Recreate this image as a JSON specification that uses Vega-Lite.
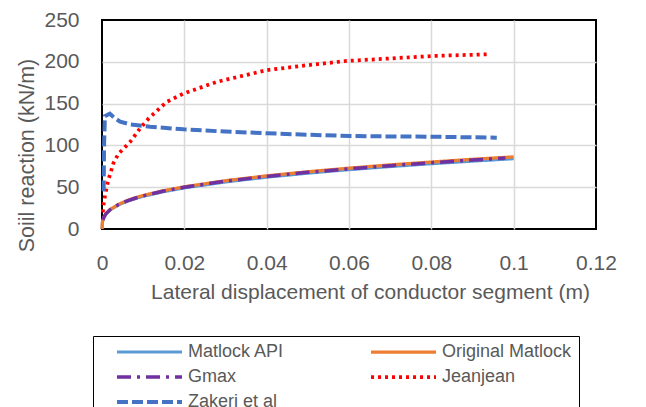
{
  "$schema": "https://vega.github.io/schema/vega-lite/v6.json",
  "width": 494,
  "height": 209,
  "autosize": "none",
  "padding": {"left": 102, "top": 20, "right": 50, "bottom": 178},
  "background": "white",
  "config": {
    "font": "Liberation Sans",
    "view": {"stroke": "black", "strokeWidth": 2},
    "axis": {
      "domain": false,
      "ticks": false,
      "gridColor": "#d9d9d9",
      "gridWidth": 1.5,
      "labelColor": "#595959",
      "titleColor": "#595959",
      "labelFontSize": 21,
      "titleFontSize": 21,
      "titleFontWeight": "normal",
      "labelFont": "Liberation Sans",
      "titleFont": "Liberation Sans"
    }
  },
  "data": {
    "values": [
      {"series": "Matlock API", "x": 0, "y": 0},
      {"series": "Matlock API", "x": 0.0001, "y": 8.4},
      {"series": "Matlock API", "x": 0.0005, "y": 14.4},
      {"series": "Matlock API", "x": 0.001, "y": 18.1},
      {"series": "Matlock API", "x": 0.002, "y": 22.8},
      {"series": "Matlock API", "x": 0.004, "y": 28.7},
      {"series": "Matlock API", "x": 0.006, "y": 32.9},
      {"series": "Matlock API", "x": 0.008, "y": 36.2},
      {"series": "Matlock API", "x": 0.01, "y": 39.0},
      {"series": "Matlock API", "x": 0.015, "y": 44.6},
      {"series": "Matlock API", "x": 0.02, "y": 49.1},
      {"series": "Matlock API", "x": 0.03, "y": 56.2},
      {"series": "Matlock API", "x": 0.04, "y": 61.9},
      {"series": "Matlock API", "x": 0.05, "y": 66.7},
      {"series": "Matlock API", "x": 0.06, "y": 70.9},
      {"series": "Matlock API", "x": 0.07, "y": 74.6},
      {"series": "Matlock API", "x": 0.08, "y": 78.0},
      {"series": "Matlock API", "x": 0.09, "y": 81.1},
      {"series": "Matlock API", "x": 0.1, "y": 84.0},

      {"series": "Original Matlock", "x": 0, "y": 0},
      {"series": "Original Matlock", "x": 0.0001, "y": 8.6},
      {"series": "Original Matlock", "x": 0.0005, "y": 14.8},
      {"series": "Original Matlock", "x": 0.001, "y": 18.6},
      {"series": "Original Matlock", "x": 0.002, "y": 23.4},
      {"series": "Original Matlock", "x": 0.004, "y": 29.5},
      {"series": "Original Matlock", "x": 0.006, "y": 33.8},
      {"series": "Original Matlock", "x": 0.008, "y": 37.2},
      {"series": "Original Matlock", "x": 0.01, "y": 40.1},
      {"series": "Original Matlock", "x": 0.015, "y": 45.9},
      {"series": "Original Matlock", "x": 0.02, "y": 50.5},
      {"series": "Original Matlock", "x": 0.03, "y": 57.8},
      {"series": "Original Matlock", "x": 0.04, "y": 63.6},
      {"series": "Original Matlock", "x": 0.05, "y": 68.5},
      {"series": "Original Matlock", "x": 0.06, "y": 72.8},
      {"series": "Original Matlock", "x": 0.07, "y": 76.7},
      {"series": "Original Matlock", "x": 0.08, "y": 80.1},
      {"series": "Original Matlock", "x": 0.09, "y": 83.4},
      {"series": "Original Matlock", "x": 0.1, "y": 86.3},

      {"series": "Gmax", "x": 0.0002, "y": 10.8},
      {"series": "Gmax", "x": 0.0005, "y": 14.6},
      {"series": "Gmax", "x": 0.001, "y": 18.4},
      {"series": "Gmax", "x": 0.002, "y": 23.2},
      {"series": "Gmax", "x": 0.004, "y": 29.2},
      {"series": "Gmax", "x": 0.006, "y": 33.4},
      {"series": "Gmax", "x": 0.008, "y": 36.8},
      {"series": "Gmax", "x": 0.01, "y": 39.6},
      {"series": "Gmax", "x": 0.015, "y": 45.4},
      {"series": "Gmax", "x": 0.02, "y": 49.9},
      {"series": "Gmax", "x": 0.03, "y": 57.2},
      {"series": "Gmax", "x": 0.04, "y": 62.9},
      {"series": "Gmax", "x": 0.05, "y": 67.8},
      {"series": "Gmax", "x": 0.06, "y": 72.0},
      {"series": "Gmax", "x": 0.07, "y": 75.8},
      {"series": "Gmax", "x": 0.08, "y": 79.3},
      {"series": "Gmax", "x": 0.09, "y": 82.5},
      {"series": "Gmax", "x": 0.098, "y": 84.8},

      {"series": "Jeanjean", "x": 0.0002, "y": 20},
      {"series": "Jeanjean", "x": 0.0003, "y": 27},
      {"series": "Jeanjean", "x": 0.0008, "y": 42},
      {"series": "Jeanjean", "x": 0.0015, "y": 58},
      {"series": "Jeanjean", "x": 0.0028, "y": 79},
      {"series": "Jeanjean", "x": 0.004, "y": 90},
      {"series": "Jeanjean", "x": 0.0068, "y": 104},
      {"series": "Jeanjean", "x": 0.0092, "y": 120},
      {"series": "Jeanjean", "x": 0.0113, "y": 132},
      {"series": "Jeanjean", "x": 0.0157, "y": 152},
      {"series": "Jeanjean", "x": 0.0198, "y": 162},
      {"series": "Jeanjean", "x": 0.0279, "y": 176},
      {"series": "Jeanjean", "x": 0.04, "y": 190},
      {"series": "Jeanjean", "x": 0.05, "y": 196},
      {"series": "Jeanjean", "x": 0.0594, "y": 201},
      {"series": "Jeanjean", "x": 0.07, "y": 204},
      {"series": "Jeanjean", "x": 0.0805, "y": 207},
      {"series": "Jeanjean", "x": 0.0939, "y": 209},

      {"series": "Zakeri et al", "x": 0.0004, "y": 45},
      {"series": "Zakeri et al", "x": 0.0005, "y": 100},
      {"series": "Zakeri et al", "x": 0.0007, "y": 135},
      {"series": "Zakeri et al", "x": 0.0019, "y": 138},
      {"series": "Zakeri et al", "x": 0.003, "y": 133},
      {"series": "Zakeri et al", "x": 0.0044, "y": 128.4},
      {"series": "Zakeri et al", "x": 0.007, "y": 125},
      {"series": "Zakeri et al", "x": 0.0117, "y": 122.4},
      {"series": "Zakeri et al", "x": 0.0198, "y": 119.2},
      {"series": "Zakeri et al", "x": 0.03, "y": 116.5},
      {"series": "Zakeri et al", "x": 0.04, "y": 114.5},
      {"series": "Zakeri et al", "x": 0.05, "y": 112.8},
      {"series": "Zakeri et al", "x": 0.0603, "y": 111.2},
      {"series": "Zakeri et al", "x": 0.07, "y": 110.7},
      {"series": "Zakeri et al", "x": 0.0805, "y": 110.4},
      {"series": "Zakeri et al", "x": 0.0959, "y": 109.2}
    ]
  },
  "encoding": {
    "x": {
      "field": "x",
      "type": "quantitative",
      "scale": {"domain": [0, 0.12], "nice": false},
      "axis": {
        "values": [0, 0.02, 0.04, 0.06, 0.08, 0.1, 0.12],
        "labelExpr": "datum.value == 0 ? '0' : format(datum.value, '.2~f')",
        "labelFlush": false,
        "labelPadding": 23,
        "title": "Lateral displacement of conductor segment (m)",
        "titleX": 268,
        "titleY": 69,
        "titleBaseline": "alphabetic",
        "titleAlign": "center",
        "gridOpacity": {"condition": {"test": "datum.value == 0 || datum.value == 0.12", "value": 0}, "value": 1}
      }
    },
    "y": {
      "field": "y",
      "type": "quantitative",
      "scale": {"domain": [0, 250], "nice": false},
      "axis": {
        "values": [0, 50, 100, 150, 200, 250],
        "labelFlush": false,
        "labelPadding": 23,
        "title": "Soiil reaction (kN/m)",
        "titleFontSize": 21.5,
        "titleX": -75,
        "titleY": 135,
        "titleAngle": 270,
        "titleAlign": "center",
        "titleBaseline": "middle",
        "gridOpacity": {"condition": {"test": "datum.value == 0 || datum.value == 250", "value": 0}, "value": 1}
      }
    },
    "color": {
      "field": "series",
      "type": "nominal",
      "scale": {
        "domain": ["Matlock API", "Original Matlock", "Gmax", "Jeanjean", "Zakeri et al"],
        "range": ["#5B9BD5", "#ED7D31", "#7030A0", "#FF0000", "#4472C4"]
      },
      "legend": {
        "orient": "none",
        "legendX": -9,
        "legendY": 316,
        "direction": "horizontal",
        "columns": 2,
        "title": null,
        "symbolType": "M-4.64,0H4.64",
        "symbolSize": 196,
        "labelFontSize": 18,
        "labelFont": "Liberation Sans",
        "labelColor": "#595959",
        "labelLimit": 300,
        "strokeColor": "black",
        "padding": 7,
        "symbolOffset": 40.5,
        "labelOffset": 29.5,
        "columnPadding": 69,
        "rowPadding": 7
      }
    },
    "strokeDash": {
      "field": "series",
      "type": "nominal",
      "scale": {
        "domain": ["Matlock API", "Original Matlock", "Gmax", "Jeanjean", "Zakeri et al"],
        "range": [[1, 0], [1, 0], [14, 6, 3, 6], [3, 4], [11, 4]]
      },
      "legend": null
    },
    "strokeWidth": {
      "field": "series",
      "type": "nominal",
      "scale": {
        "domain": ["Matlock API", "Original Matlock", "Gmax", "Jeanjean", "Zakeri et al"],
        "range": [3, 4, 4, 3, 3.5]
      },
      "legend": null
    }
  },
  "layer": [
    {"transform": [{"filter": "datum.series == 'Matlock API'"}], "mark": {"type": "line"}},
    {"transform": [{"filter": "datum.series == 'Original Matlock'"}], "mark": {"type": "line"}},
    {"transform": [{"filter": "datum.series == 'Gmax'"}], "mark": {"type": "line"}},
    {"transform": [{"filter": "datum.series == 'Jeanjean'"}], "mark": {"type": "line", "strokeCap": "butt"}},
    {"transform": [{"filter": "datum.series == 'Zakeri et al'"}], "mark": {"type": "line"}}
  ]
}
